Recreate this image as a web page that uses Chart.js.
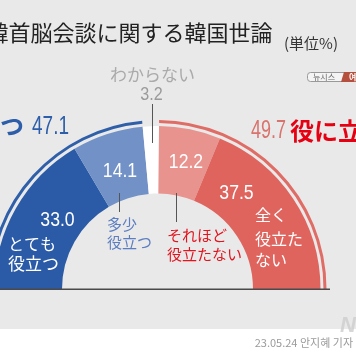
<!DOCTYPE html>
<html><head><meta charset="utf-8">
<script src="https://cdn.jsdelivr.net/npm/chart.js@4"></script>
<style>
html,body{margin:0;padding:0;overflow:hidden;width:356px;height:364px;background:#fff}
#wrap{position:absolute;left:-20px;top:0;width:396px;height:364px}
</style></head>
<body><div id="wrap"><canvas id="c" width="396" height="364"></canvas></div>
<script>
// ---- data ----
const categories = ['とても役立つ', '多少役立つ', 'わからない', 'それほど役立たない', '全く役立たない'];
const values = [33.0, 14.1, 3.2, 12.2, 37.5];
const groupLabels = ['役に立つ', 'わからない', '役に立たない'];
const groupTotals = [47.1, 3.2, 49.7];
const titleText = '日韓首脳会談に関する韓国世論';
const unitText = '(単位%)';
const sourceText = '23.05.24 안지혜 기자';

// ---- styles ----
const sliceColors = ['#2b5ba6', '#7191c7', '#ffffff', '#e8938e', '#e0645e'];
const groupColors = ['#2f5fa8', 'rgba(0,0,0,0)', '#e06c66'];
const OX = 20; // canvas offset to page coords
const CJK = '"Noto Sans CJK JP", "Noto Sans", sans-serif';
const NUM = '"Liberation Sans", Arial, sans-serif';

function txt(ctx, s, x, y, font, color, align) {
  ctx.font = font; ctx.fillStyle = color; ctx.textAlign = align || 'left'; ctx.textBaseline = 'middle';
  ctx.fillText(s, x, y);
}
function num(ctx, s, x, y, size, color, align, sx) {
  ctx.save();
  ctx.translate(x, y); ctx.scale(sx, 1);
  ctx.font = size + 'px ' + NUM; ctx.fillStyle = color; ctx.textAlign = align || 'center'; ctx.textBaseline = 'middle';
  ctx.fillText(s, 0, 0);
  ctx.restore();
}
function vline(ctx, x, y1, y2, color) {
  ctx.strokeStyle = color; ctx.lineWidth = 1; ctx.beginPath(); ctx.moveTo(x + 0.5, y1); ctx.lineTo(x + 0.5, y2); ctx.stroke();
}

const deco = {
  id: 'deco',
  beforeDraw(chart) {
    const ctx = chart.ctx;
    ctx.save(); ctx.translate(OX, 0);
    ctx.fillStyle = '#ffffff'; ctx.fillRect(-OX, 0, 396, 364);
    ctx.fillStyle = '#e9e9e9'; ctx.fillRect(-OX, 0, 396, 329);
    ctx.restore();
  },
  afterDatasetsDraw(chart) {
    const ctx = chart.ctx;
    ctx.save(); ctx.translate(OX, 0);
    // baseline
    ctx.strokeStyle = '#4a4a4a'; ctx.lineWidth = 1.5;
    ctx.beginPath(); ctx.moveTo(-OX, 289.25); ctx.lineTo(330, 289.25); ctx.stroke();

    // title
    txt(ctx, titleText, -35.5, 33, '22px ' + CJK, '#222', 'left');
    txt(ctx, unitText, 284, 43, '15px ' + CJK, '#333', 'left');

    // logo
    ctx.strokeStyle = '#999'; ctx.lineWidth = 1; ctx.fillStyle = '#f4f4f4';
    ctx.beginPath(); ctx.roundRect(307.5, 72.5, 40, 9, 3); ctx.fill(); ctx.stroke();
    txt(ctx, '뉴시스', 324, 77, '8px "Noto Sans CJK KR", sans-serif', '#666', 'center');
    ctx.fillStyle = '#b5503e';
    ctx.beginPath(); ctx.moveTo(344, 72); ctx.lineTo(358, 72); ctx.lineTo(358, 82); ctx.lineTo(341, 82); ctx.closePath(); ctx.fill();
    txt(ctx, '여', 349, 77, 'bold 8px "Noto Sans CJK KR", sans-serif', '#fff', 'left');

    // don't know
    txt(ctx, categories[2], 152.5, 75, '17px ' + CJK, '#aaaaaa', 'center');
    num(ctx, values[2].toFixed(1), 151.5, 94.5, 19, '#9a9a9a', 'center', 0.85);
    vline(ctx, 152, 104, 143, '#555');

    // group totals
    txt(ctx, groupLabels[0], 24, 126, 'bold 24px ' + CJK, '#2d5ea9', 'right');
    num(ctx, groupTotals[0].toFixed(1), 32, 127, 25, '#2d5ea9', 'left', 0.76);
    num(ctx, groupTotals[2].toFixed(1), 251, 131.5, 25, '#d9736d', 'left', 0.72);
    txt(ctx, groupLabels[2], 290, 131, 'bold 24px ' + CJK, '#e50012', 'left');

    // slice labels
    num(ctx, values[0].toFixed(1), 57.5, 220, 21, '#fff', 'center', 0.84);
    txt(ctx, 'とても', 8, 243.5, '16px ' + CJK, '#fff', 'left');
    txt(ctx, '役立つ', 8, 263.5, '17px ' + CJK, '#fff', 'left');

    num(ctx, values[1].toFixed(1), 120, 171, 21, '#fff', 'center', 0.84);
    vline(ctx, 119, 193, 212, '#555');
    txt(ctx, '多少', 107, 224, '15px ' + CJK, '#5b7dc1', 'left');
    txt(ctx, '役立つ', 107, 242.5, '15px ' + CJK, '#5b7dc1', 'left');

    num(ctx, values[3].toFixed(1), 186, 162, 21, '#fff', 'center', 0.84);
    vline(ctx, 176, 193, 222, '#555');
    txt(ctx, 'それほど', 167, 235, '15px ' + CJK, '#e3141e', 'left');
    txt(ctx, '役立たない', 167, 254, '15px ' + CJK, '#e3141e', 'left');

    num(ctx, values[4].toFixed(1), 236.5, 193, 21, '#fff', 'center', 0.84);
    txt(ctx, '全く', 255, 214.5, '16px ' + CJK, '#fff', 'left');
    txt(ctx, '役立た', 255, 238.5, '16px ' + CJK, '#fff', 'left');
    txt(ctx, 'ない', 255, 260, '16px ' + CJK, '#fff', 'left');

    // source & watermark
    txt(ctx, 'N', 348, 326, 'bold italic 22px "Liberation Sans", sans-serif', 'rgba(205,205,205,0.8)', 'center');
    txt(ctx, sourceText, 353, 343, '11px "Noto Sans CJK KR", sans-serif', '#9a9a9a', 'right');
    ctx.restore();
  }
};

new Chart(document.getElementById('c'), {
  type: 'doughnut',
  data: {
    labels: categories,
    datasets: [
      { data: groupTotals, backgroundColor: groupColors, borderWidth: 0, weight: 3 },
      { data: [100], backgroundColor: 'rgba(0,0,0,0)', borderWidth: 0, weight: 3 },
      { data: values, backgroundColor: sliceColors, borderWidth: 0, weight: 67.5 }
    ]
  },
  options: {
    responsive: false,
    animation: false,
    events: [],
    rotation: -90,
    circumference: 180,
    cutout: '56.5%',
    layout: { padding: { left: 8.5, right: 49.5, top: 120, bottom: 75 } },
    plugins: { legend: { display: false }, tooltip: { enabled: false }, title: { display: false } }
  },
  plugins: [deco]
});
</script>
</body></html>
